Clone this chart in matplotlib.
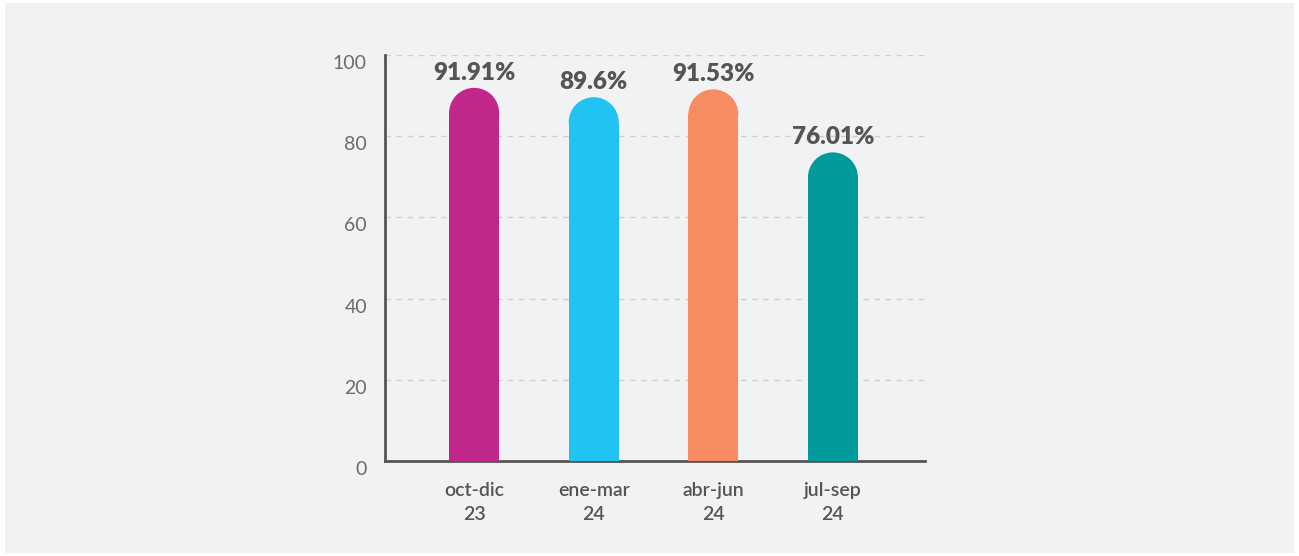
import matplotlib.pyplot as plt
from matplotlib.patches import Ellipse, Rectangle
from matplotlib.transforms import ScaledTranslation

plt.rcParams['font.family'] = ['Lato', 'DejaVu Sans']

# quarterly values (%)
periods = ['oct-dic\n23', 'ene-mar\n24', 'abr-jun\n24', 'jul-sep\n24']
values = [91.91, 89.6, 91.53, 76.01]
colors = ['#c1268a', '#21c3f3', '#f88b5f', '#009a9a']
yticks = [0, 20, 40, 60, 80, 100]

fig = plt.figure(figsize=(12.99, 5.56), dpi=100, facecolor='white')
# light grey panel behind everything
fig.patches.append(Rectangle((5 / 1299, 3 / 556), 1289 / 1299, 550 / 556,
                             transform=fig.transFigure, facecolor='#f1f2f4',
                             edgecolor='none', zorder=-10))

ax = fig.add_axes([0.2964, 0.1709, 0.4157, 0.7302])
ax.set_facecolor('none')
ax.set_xlim(-0.745, 3.77)
ax.set_ylim(0, 100)

ax.set_yticks(yticks)
ax.set_yticklabels([str(t) for t in yticks], fontsize=14, color='#6b6b6b')
ax.tick_params(axis='y', length=0, pad=13)
for lab in ax.get_yticklabels():
    lab.set_transform(lab.get_transform() + ScaledTranslation(0, -5 / 72, fig.dpi_scale_trans))

x = list(range(len(periods)))
ax.set_xticks(x)
ax.set_xticklabels(periods, fontsize=14, color='#555555', fontweight='semibold',
                   linespacing=1.5)
ax.tick_params(axis='x', length=0, pad=15)

ax.grid(axis='y', color='#cfcfcf', linestyle=(0, (4, 4)), linewidth=1)
ax.set_axisbelow(True)
for s in ['top', 'right']:
    ax.spines[s].set_visible(False)
for s in ['left', 'bottom']:
    ax.spines[s].set_color('#555555')
    ax.spines[s].set_linewidth(2)

# rounded top bars: rectangle + half ellipse cap (circle in pixels)
width = 0.418
fig.canvas.draw()
bbox = ax.get_window_extent()
px_per_x = bbox.width / (ax.get_xlim()[1] - ax.get_xlim()[0])
px_per_y = bbox.height / (ax.get_ylim()[1] - ax.get_ylim()[0])
r_px = width * px_per_x / 2
ry = r_px / px_per_y

for xi, v, c in zip(x, values, colors):
    ax.bar(xi, v - ry, width=width, color=c, zorder=3)
    ax.add_patch(Ellipse((xi, v - ry), width, 2 * ry, facecolor=c,
                         edgecolor='none', zorder=3))
    ax.annotate(f'{v:g}%', (xi, v), xytext=(0, 3), textcoords='offset points',
                ha='center', va='bottom', fontsize=17.5, fontweight='heavy',
                color='#555555', zorder=4)

fig.savefig('out.png', dpi=100, facecolor=fig.get_facecolor())
